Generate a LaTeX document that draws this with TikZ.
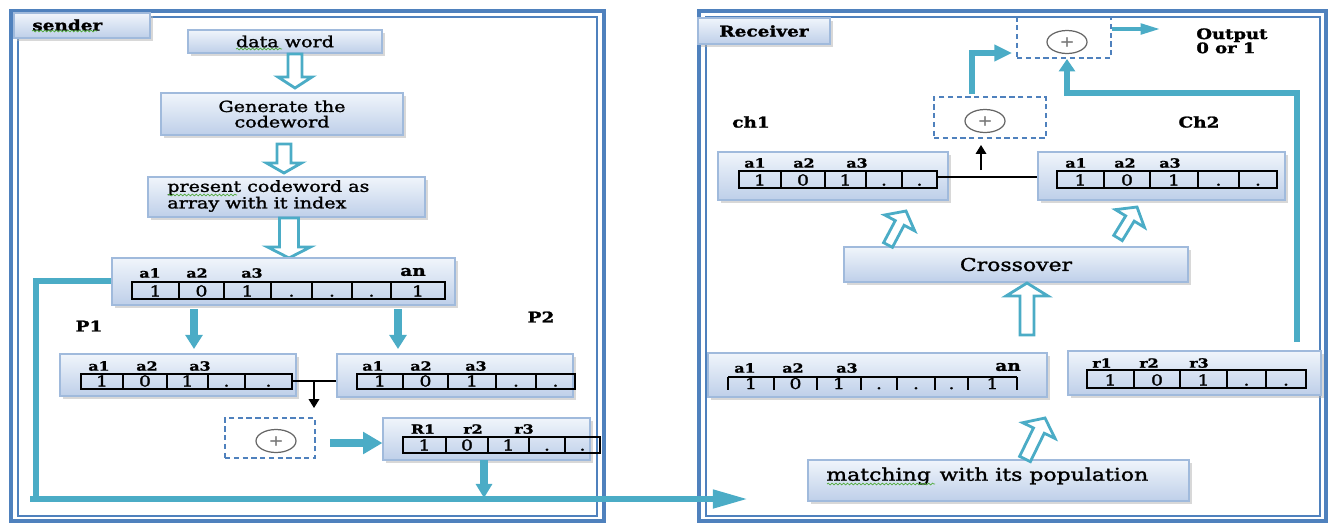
\documentclass[tikz,border=0pt]{standalone}
\usepackage{fontspec}
\setmainfont[FakeStretch=1.25, FakeBold=1.5]{DejaVu Serif}
\usetikzlibrary{arrows.meta,calc,shapes.geometric,shadows,decorations.pathmorphing}

\definecolor{frameblue}{RGB}{79,129,189}
\definecolor{arrowblue}{RGB}{75,172,198}
\definecolor{boxtop}{RGB}{240,245,251}
\definecolor{boxbot}{RGB}{190,207,233}
\definecolor{boxedge}{RGB}{160,186,220}
\definecolor{squiggle}{RGB}{80,170,60}

\newcommand\ftxt{\fontsize{8.7}{9}\selectfont}
\newcommand\fbig{\fontsize{10}{12}\selectfont}
\newcommand\flbl{\fontsize{7.2}{8}\selectfont\bfseries}
\newcommand\fcell{\fontsize{8.6}{10}\selectfont}
\newcommand\fmid{\fontsize{8.4}{9}\selectfont\bfseries}

% box from (x1,y1) to (x2,y2) in pixel units
\newcommand{\bx}[8][gbox]{%
  \pgfmathsetmacro\bxw{(#5-#3)*0.02}%
  \pgfmathsetmacro\bxh{(#6-#4)*0.02}%
  \node[#1, minimum width=\bxw cm, minimum height=\bxh cm, #7] (#2) at ({(#3+#5)/2},{(#4+#6)/2}) {#8};%
}
% row of closed cells
\newcommand{\cells}[4]{%
  \foreach \xa/\xb/\ct [count=\ci] in {#4} {%
    \draw[cellline] (\xa,#2) rectangle (\xb,#3);%
    \node[celltxt] (#1\ci) at ({(\xa+\xb)/2},#3-2.5) {\ct};%
  }%
}
% hollow block arrow between two named coordinates
\newcommand{\blockarrow}[5]{%
  \coordinate (bah) at ($(#2)!#5!(#1)$);%
  \draw[harrow] ($(#1)!#3!90:(#2)$) -- ($(bah)!#3!-90:(#1)$) -- ($(bah)!#4!-90:(#1)$) -- (#2)
     -- ($(bah)!#4!90:(#1)$) -- ($(bah)!#3!90:(#1)$) -- ($(#1)!#3!-90:(#2)$) -- cycle;%
}

\begin{document}
\begin{tikzpicture}[x=0.02cm, y=-0.02cm,
  gbox/.style={draw=boxedge, line width=0.6pt, top color=boxtop, bottom color=boxbot,
     drop shadow={shadow xshift=1.6pt, shadow yshift=-1.6pt, fill=black!30}, inner sep=0pt, font=\ftxt, align=center},
  dbox/.style={draw=frameblue, dash pattern=on 3pt off 2pt, line width=0.9pt, inner sep=0pt},
  xorel/.style={ellipse, draw=black!60, line width=0.7pt, minimum width=0.8cm, minimum height=0.46cm, inner sep=0pt,
     font=\fontsize{8}{8}\selectfont, text=black!55},
  cellline/.style={draw=black, line width=0.8pt},
  celltxt/.style={anchor=base, font=\fcell, inner sep=0pt},
  lbl/.style={font=\flbl, inner sep=0pt},
  mid/.style={font=\fmid, inner sep=0pt},
  txt/.style={font=\ftxt, inner sep=0pt},
  tline/.style={draw=arrowblue, line width=3pt},
  harrow/.style={draw=arrowblue, line width=1.6pt, fill=white, line join=miter},
  blk/.style={draw=black, line width=0.7pt},
  squig/.style={draw=squiggle, line width=0.4pt, decorate, decoration={snake, segment length=2.2pt, amplitude=0.5pt}}
]
\useasboundingbox (0,0) rectangle (1329,525);

% ---------- frames ----------
\draw[frameblue, line width=2.8pt] (11,11) rectangle (604,521);
\draw[frameblue, line width=0.8pt] (18,17) rectangle (597,516);
\draw[frameblue, line width=2.8pt] (699,11) rectangle (1326,521);
\draw[frameblue, line width=0.8pt] (706,17) rectangle (1320,516);

% ================= SENDER =================
\bx{stab}{14}{13}{150}{38}{}{}
\node[mid, anchor=west] (stabt) at (32,25) {sender};
\draw[squig] (32,31) -- (97,31);

\bx{dw}{188}{30}{382}{53}{}{data word}
\draw[squig] (236,49) -- (282,49);
\bx{gen}{161}{93}{403}{135}{font=\fontsize{8.7}{8.8}\selectfont}{Generate the\\codeword}
\bx{pres}{148}{177}{425}{217}{}{}
\node[txt, anchor=west, align=left, font=\fontsize{8.7}{8}\selectfont] (prest) at (167,196) {present codeword as\\array with it index};
\draw[squig] (168,195) -- (237,195);

% hollow arrows
\coordinate (h1s) at (295,54);  \coordinate (h1e) at (295,88);
\coordinate (h2s) at (284,144); \coordinate (h2e) at (284,173);
\coordinate (h3s) at (289,218); \coordinate (h3e) at (289,258);
\blockarrow{h1s}{h1e}{0.14cm}{0.34cm}{0.22cm}
\blockarrow{h2s}{h2e}{0.14cm}{0.35cm}{0.2cm}
\blockarrow{h3s}{h3e}{0.19cm}{0.43cm}{0.22cm}

% big array
\bx{arr}{112}{258}{455}{305}{}{}
\node[lbl] (arr-a1) at (150,273) {a1};
\node[lbl] (arr-a2) at (197,273) {a2};
\node[lbl] (arr-a3) at (252,273) {a3};
\node[lbl, font=\fontsize{8.4}{9}\selectfont\bfseries] (arr-an) at (413,272) {an};
\cells{ac}{282}{299}{132/179/1,179/224/0,224/271/1,271/312/.,312/352/.,352/391/.,391/445/1}

\node[mid] (p1) at (89,326) {P1};
\node[mid] (p2) at (541,317) {P2};

% P1 / P2 arrays
\bx{pa}{60}{354}{296}{396}{}{}
\node[lbl] (pa-a1) at (99,366) {a1};
\node[lbl] (pa-a2) at (147,366) {a2};
\node[lbl] (pa-a3) at (200,366) {a3};
\cells{pac}{374}{389}{81/123/1,123/167/0,167/208/1,208/245/.,245/292/.}
\bx{pb}{337}{354}{573}{397}{}{}
\node[lbl] (pb-a1) at (373,366) {a1};
\node[lbl] (pb-a2) at (421,366) {a2};
\node[lbl] (pb-a3) at (476,366) {a3};
\cells{pbc}{374}{389}{357/403/1,403/448/0,448/496/1,496/536/.,536/575/.}

% thick arrows from big array
\coordinate (p1s) at (194,309); \coordinate (p1e) at (194,349);
\coordinate (p2s) at (398,309); \coordinate (p2e) at (398,349);
\draw[tline, line width=4.8pt, -{Triangle[width=9.5pt,length=8pt]}] (p1s) -- (p1e);
\draw[tline, line width=4.8pt, -{Triangle[width=9.5pt,length=8pt]}] (p2s) -- (p2e);

% xor in sender
\bx[dbox]{xa}{225}{418}{315}{458}{}{}
\node[xorel] (xa-o) at (276,441) {+};
\coordinate (j1) at (292,381);
\coordinate (j1m) at (314,381); \coordinate (j1e) at (314,408);
\draw[blk] (j1) -- (j1 -| pb.west);
\draw[blk, -{Triangle[width=6pt,length=5pt]}] (j1m) -- (j1e);

% R1 array
\bx{rb}{383}{418}{590}{460}{}{}
\node[lbl] (rb-a1) at (423,429) {R1};
\node[lbl] (rb-a2) at (473,429) {r2};
\node[lbl] (rb-a3) at (524,429) {r3};
\cells{rbc}{437}{453}{403/446/1,446/488/0,488/529/1,529/565/.,565/600/.}
\coordinate (xas) at (330,443);
\draw[tline, line width=4pt, -{Triangle[width=12pt,length=11pt]}] (xas) -- (xas -| rb.west);

% connectors to receiver
\coordinate (lft) at (36,281);
\coordinate (lfb) at (36,499);
\coordinate (bs) at (30,499);
\coordinate (be) at (748,499);
\coordinate (rds) at (484,460);
\coordinate (rde) at (484,498);
\draw[tline, line width=4.5pt, -{Triangle[width=9pt,length=8pt]}] (rds) -- (rde);
\draw[tline, line join=miter] (arr.west |- lft) -- (lft) -- (lfb);
\draw[tline, line width=3.4pt, -{Triangle[width=10pt,length=20pt]}] (bs) -- (be);

% ================= RECEIVER =================
\bx{rtab}{698}{18}{830}{44}{}{}
\node[mid, anchor=west] (rtabt) at (719,31) {Receiver};

\bx[dbox]{xt}{1017}{17}{1111}{58}{}{}
\node[xorel] (xt-o) at (1067,42) {+};
\node[mid, anchor=north west, align=left, font=\fontsize{8.2}{8}\selectfont\bfseries] (out) at (1196,28) {Output\\0 or 1};

\bx[dbox]{xm}{934}{97}{1046}{138}{}{}
\node[xorel] (xm-o) at (985,121) {+};

\node[mid] (ch1) at (751,122) {ch1};
\node[mid] (ch2) at (1199,122) {Ch2};

\bx{c1}{718}{152}{948}{200}{}{}
\node[lbl] (c1-a1) at (755,163) {a1};
\node[lbl] (c1-a2) at (804,163) {a2};
\node[lbl] (c1-a3) at (857,163) {a3};
\cells{c1c}{171}{188}{739/781/1,781/825/0,825/866/1,866/902/.,902/937/.}

\bx{c2}{1038}{152}{1285}{200}{}{}
\node[lbl] (c2-a1) at (1076,163) {a1};
\node[lbl] (c2-a2) at (1125,163) {a2};
\node[lbl] (c2-a3) at (1170,163) {a3};
\cells{c2c}{171}{188}{1057/1104/1,1104/1150/0,1150/1198/1,1198/1239/.,1239/1277/.}

\coordinate (j2) at (937,177);
\coordinate (j2s) at (981,170); \coordinate (j2e) at (981,145);
\draw[blk] (j2) -- (j2 -| c2.west);
\draw[blk, -{Triangle[width=6pt,length=5pt]}] (j2s) -- (j2e);

\bx{cross}{844}{247}{1188}{282}{font=\fbig}{Crossover}

\bx{la}{708}{353}{1047}{397}{}{}
\node[lbl] (la-a1) at (745,368) {a1};
\node[lbl] (la-a2) at (793,368) {a2};
\node[lbl] (la-a3) at (847,368) {a3};
\node[lbl, font=\fontsize{8.4}{9}\selectfont\bfseries] (la-an) at (1008,367) {an};
\draw[cellline] (728,377) -- (1017,377);
\foreach \xx in {728,774,817,861,897,935,968,1017} \draw[cellline] (\xx,377) -- (\xx,390);
\foreach \xa/\xb/\ct [count=\ci] in {728/774/1,774/817/0,817/861/1,861/897/.,897/935/.,935/968/.,968/1017/1}
  \node[celltxt] (lac\ci) at ({(\xa+\xb)/2},389) {\ct};

\bx{rr}{1068}{351}{1321}{395}{}{}
\node[lbl] (rr-a1) at (1102,363) {r1};
\node[lbl] (rr-a2) at (1149,363) {r2};
\node[lbl] (rr-a3) at (1199,363) {r3};
\cells{rrc}{370}{388}{1087/1134/1,1134/1180/0,1180/1227/1,1227/1266/.,1266/1306/.}

\bx{match}{808}{460}{1189}{501}{}{}
\node[txt, anchor=west, font=\fbig] (matcht) at (826,476) {matching\hspace{0.5em}with its population};
\draw[squig] (827,484) -- (935,484);

% receiver hollow arrows
\coordinate (h4s) at (1027,335); \coordinate (h4e) at (1027,283);
\coordinate (h5s) at (888,245);  \coordinate (h5e) at (906,211);
\coordinate (h6s) at (1118,238); \coordinate (h6e) at (1137,207);
\coordinate (h7s) at (1025,459); \coordinate (h7e) at (1045,418);
\blockarrow{h4s}{h4e}{0.14cm}{0.42cm}{0.26cm}
\blockarrow{h5s}{h5e}{0.1cm}{0.34cm}{0.27cm}
\blockarrow{h6s}{h6e}{0.1cm}{0.34cm}{0.27cm}
\blockarrow{h7s}{h7e}{0.12cm}{0.36cm}{0.28cm}

% receiver thick arrows
\coordinate (e1) at (972,94); \coordinate (e2) at (972,53); \coordinate (e3) at (1012,53);
\draw[tline, line width=3.5pt, line join=miter, -{Triangle[width=9pt,length=10pt]}] (e1) -- (e2) -- (e3);
\coordinate (o1) at (1112,29); \coordinate (o2) at (1160,29);
\draw[tline, line width=2pt, -{Triangle[width=6pt,length=11pt]}] (xt.east |- o1) -- (o2);
\coordinate (v1) at (1297,342); \coordinate (v2) at (1297,93); \coordinate (v3) at (1067,93); \coordinate (v4) at (1067,59);
\draw[tline, line join=miter, -{Triangle[width=9pt,length=7pt]}] (v1) -- (v2) -- (v3) -- (v4);
\end{tikzpicture}
\end{document}
